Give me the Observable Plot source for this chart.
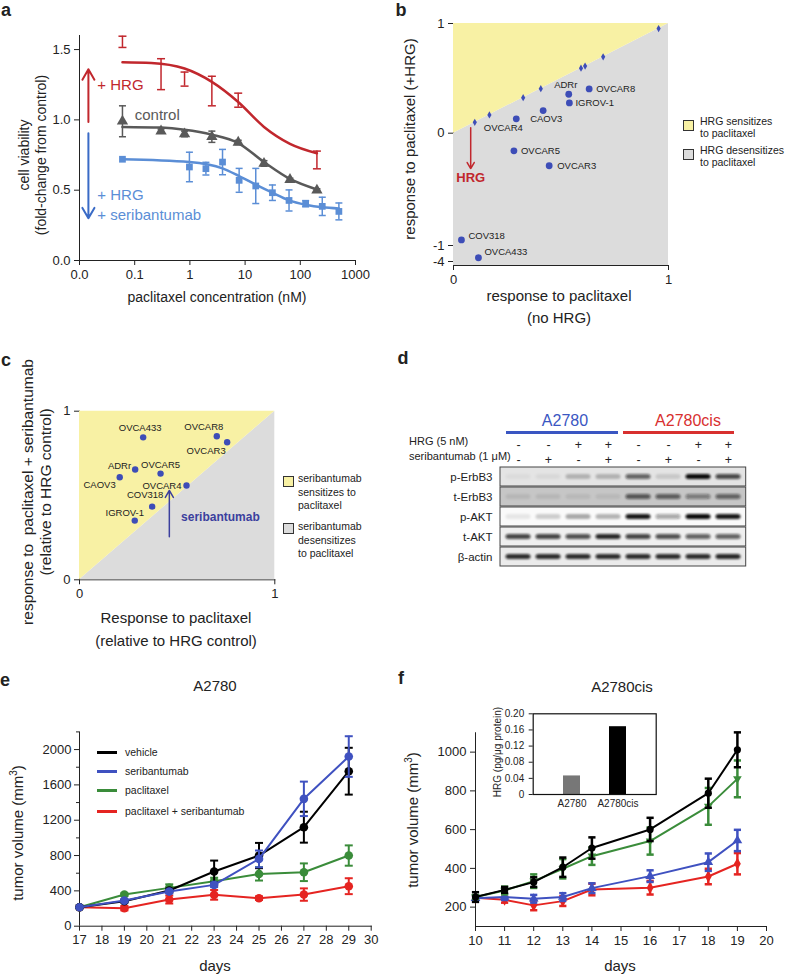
<!DOCTYPE html>
<html><head><meta charset="utf-8">
<script src="https://cdn.jsdelivr.net/npm/d3@7"></script>
<script src="https://cdn.jsdelivr.net/npm/@observablehq/plot@0.6"></script>
<style>
body{margin:0;background:#fff;}
#root{position:relative;width:787px;height:976px;overflow:hidden;font-family:"Liberation Sans",Arial,Helvetica,sans-serif;color:#222;background:#fff;}
.abs{position:absolute;white-space:nowrap;}
.sw{position:absolute;width:9px;height:9px;border:1.3px solid #333;}
.ln{position:absolute;}
</style></head><body><div id="root"></div>
<script>
// ---------------- DATA ----------------
// Panel a
const aXTicks = [0.01, 0.1, 1, 10, 100, 1000];
const aXTickLabels = ["0.0", "0.1", "1", "10", "100", "1000"];
const aYTicks = [0, 0.5, 1.0, 1.5];
const aHrgConc = [0.06, 0.3, 0.8, 2.5, 7.5, 200];
const aHrgY = [1.555, 1.325, 1.29, 1.205, 1.14, 0.715];
const aHrgErr = [0.04, 0.11, 0.05, 0.105, 0.05, 0.063];
const aCtrlConc = [0.06, 0.3, 0.8, 2.5, 7.5, 22, 65, 200];
const aCtrlY = [0.99, 0.92, 0.90, 0.88, 0.84, 0.69, 0.575, 0.50];
const aCtrlErr = [0.11, 0.015, 0.02, 0.04, 0.015, 0.02, 0.01, 0.01];
const aSeriConc = [0.06, 0.98, 1.95, 3.9, 7.8, 15.6, 31.25, 62.5, 125, 250, 500];
const aSeriY = [0.72, 0.665, 0.653, 0.70, 0.57, 0.53, 0.482, 0.427, 0.404, 0.385, 0.349];
const aSeriErr = [0, 0.105, 0.045, 0.09, 0.085, 0.125, 0.055, 0.075, 0.022, 0.065, 0.06];
const aFitHrgX = [0.06, 0.2, 0.8, 2.5, 7.5, 22, 65, 200];
const aFitHrgY = [1.41, 1.405, 1.365, 1.27, 1.127, 0.95, 0.83, 0.763];
const aFitCtrlX = [0.06, 0.3, 0.8, 2.5, 7.5, 22, 65, 200];
const aFitCtrlY = [0.95, 0.945, 0.93, 0.895, 0.835, 0.70, 0.58, 0.505];
const aFitSeriX = [0.06, 0.98, 3.9, 7.8, 15.6, 31.25, 62.5, 125, 250, 500];
const aFitSeriY = [0.72, 0.70, 0.655, 0.60, 0.54, 0.482, 0.428, 0.397, 0.378, 0.37];

// Panel b
const bLines = ["ADRr", "OVCAR8", "IGROV-1", "CAOV3", "OVCAR4", "OVCAR5", "OVCAR3", "COV318", "OVCA433"];
const bNoHrg = [0.536, 0.631, 0.539, 0.417, 0.292, 0.281, 0.445, 0.037, 0.116];
const bHrg = [0.355, 0.404, 0.276, 0.206, 0.131, -0.157, -0.29, -0.95, -3.3];
const bDiag = [0.099, 0.167, 0.324, 0.406, 0.593, 0.612, 0.696, 0.954];
const bYTicks = [1, 0, -1, -4];

// Panel c
const cLines = ["OVCA433", "OVCAR8", "OVCAR3", "ADRr", "OVCAR5", "CAOV3", "OVCAR4", "COV318", "IGROV-1"];
const cPacl = [0.326, 0.703, 0.756, 0.285, 0.415, 0.206, 0.548, 0.372, 0.283];
const cCombo = [0.845, 0.851, 0.816, 0.654, 0.63, 0.608, 0.559, 0.434, 0.351];

// Panel d (western blot band intensities, 0..1)
const dRows = ["p-ErbB3", "t-ErbB3", "p-AKT", "t-AKT", "β-actin"];
const dLanes = ["1", "2", "3", "4", "5", "6", "7", "8"];
const dHrgSign = ["-", "-", "+", "+", "-", "-", "+", "+"];
const dSeriSign = ["-", "+", "-", "+", "-", "+", "-", "+"];
const dPErbB3 = [0.04, 0.05, 0.22, 0.22, 0.6, 0.12, 1.0, 0.72];
const dTErbB3 = [0.08, 0.08, 0.07, 0.07, 0.62, 0.58, 0.42, 0.55];
const dPAKT = [0.08, 0.18, 0.32, 0.28, 0.95, 0.35, 1.0, 0.95];
const dTAKT = [0.75, 0.75, 0.7, 0.88, 0.75, 0.7, 0.62, 0.62];
const dActin = [0.85, 0.85, 0.85, 0.85, 0.85, 0.85, 0.85, 0.88];

// Panel e (A2780)
const eDays = [17, 19, 21, 23, 25, 27, 29];
const eVehicle = [215, 283, 404, 619, 800, 1121, 1755];
const eVehicleErr = [0, 15, 20, 124, 143, 175, 265];
const eSeri = [215, 290, 392, 468, 762, 1442, 1921];
const eSeriErr = [0, 15, 20, 25, 95, 195, 230];
const ePacl = [215, 358, 434, 509, 592, 611, 800];
const ePaclErr = [0, 15, 40, 40, 75, 100, 115];
const eCombo = [215, 204, 302, 355, 317, 358, 453];
const eComboErr = [0, 25, 45, 55, 20, 70, 90];
const eXTicks = [17, 18, 19, 20, 21, 22, 23, 24, 25, 26, 27, 28, 29, 30];
const eYTicks = [0, 400, 800, 1200, 1600, 2000];
const eYMinor = [200, 600, 1000, 1400, 1800, 2200];
const eLegend = ["vehicle", "seribantumab", "paclitaxel", "paclitaxel + seribantumab"];

// Panel f (A2780cis)
const fDays = [10, 11, 12, 13, 14, 16, 18, 19];
const fVehicle = [252, 289, 329, 406, 505, 601, 788, 1012];
const fVehicleErr = [25, 15, 25, 50, 55, 60, 75, 90];
const fSeri = [246, 252, 243, 252, 298, 360, 432, 544];
const fSeriErr = [15, 15, 20, 20, 25, 30, 45, 55];
const fPacl = [252, 286, 334, 398, 463, 541, 720, 862];
const fPaclErr = [10, 20, 35, 50, 45, 70, 95, 95];
const fCombo = [248, 238, 209, 231, 291, 300, 358, 424];
const fComboErr = [10, 15, 25, 25, 30, 35, 40, 55];
const fXTicks = [10, 11, 12, 13, 14, 15, 16, 17, 18, 19, 20];
const fYTicks = [200, 400, 600, 800, 1000];
const fInsetCat = ["A2780", "A2780cis"];
const fInsetHRG = [0.046, 0.168];
const fInsetTicks = [0, 0.04, 0.08, 0.12, 0.16, 0.20];

// ---------------- STYLES ----------------
const FONT = '"Liberation Sans", Arial, Helvetica, sans-serif';
const RED_A = "#c1272d", GRAY_A = "#595959", BLUE_A = "#5b8ed6", BLUE_ARROW = "#3a6bc6";
const DOT_BLUE = "#3d4db7", YELLOW = "#f8f1a4", GRAYBG = "#dcdcdc", NAVY = "#3b3f9e";
const E_BLACK = "#000", E_BLUE = "#3f51c0", E_GREEN = "#3a8c3a", E_RED = "#e52421";
const fInsetColors = ["#777777", "#000000"];
const dRowBg = ["#e4e4e4", "#c6c6c6", "#fafafa", "#efefef", "#ebebeb"];

const root = document.getElementById("root");
const st = fs => ({fontFamily: FONT, fontSize: fs + "px", color: "#222", background: "transparent", overflow: "visible"});
function put(svg, left, top) {
  svg.style.position = "absolute"; svg.style.left = left + "px"; svg.style.top = top + "px";
  root.appendChild(svg); return svg;
}
function label(html, x, y, o = {}) {
  const d = document.createElement("div");
  d.className = "abs"; d.innerHTML = html;
  Object.assign(d.style, {left: x + "px", top: y + "px", fontSize: (o.size || 14) + "px", color: o.color || "#222",
    fontWeight: o.bold ? "bold" : "normal", lineHeight: o.lh ? o.lh + "px" : "normal", textAlign: o.align || "center"});
  const ax = o.anchor === "start" ? "0" : o.anchor === "end" ? "-100%" : "-50%";
  d.style.transform = `translate(${ax},-50%)` + (o.rotate ? " rotate(-90deg)" : "");
  root.appendChild(d); return d;
}
const capSym = {draw(ctx, size) { const w = Math.sqrt(size / Math.PI); ctx.moveTo(-w, 0); ctx.lineTo(w, 0); }};
const triDown = {draw(ctx, size) { const r = Math.sqrt(size / Math.PI) * 1.2; ctx.moveTo(-r, -r * 0.6); ctx.lineTo(r, -r * 0.6); ctx.lineTo(0, r * 1.1); ctx.closePath(); }};
function errBars(data, stroke, w, capR) {
  const d = data.filter(p => p.e > 0);
  return [
    Plot.ruleX(d, {x: "x", y1: p => p.y - p.e, y2: p => p.y + p.e, stroke, strokeWidth: w}),
    Plot.dot(d, {x: "x", y: p => p.y + p.e, symbol: capSym, r: capR, stroke, strokeWidth: w, fill: "none"}),
    Plot.dot(d, {x: "x", y: p => p.y - p.e, symbol: capSym, r: capR, stroke, strokeWidth: w, fill: "none"})
  ];
}
const zip3 = (xs, ys, es) => xs.map((x, i) => ({x, y: ys[i], e: es ? es[i] : 0}));
const intFmt = d => String(d);

// ---------------- PANEL A ----------------
{
  const hrg = zip3(aHrgConc, aHrgY, aHrgErr), ctrl = zip3(aCtrlConc, aCtrlY, aCtrlErr), seri = zip3(aSeriConc, aSeriY, aSeriErr);
  const fitH = zip3(aFitHrgX, aFitHrgY), fitC = zip3(aFitCtrlX, aFitCtrlY), fitS = zip3(aFitSeriX, aFitSeriY);
  const arrows = [{x1: 0.0145, y1: 0.985, x2: 0.0145, y2: 1.36, c: RED_A}, {x1: 0.0145, y1: 0.905, x2: 0.0145, y2: 0.30, c: BLUE_ARROW}];
  const notes = [
    {x: 0.021, y: 1.246, t: "+ HRG", c: RED_A},
    {x: 0.1, y: 1.03, t: "control", c: GRAY_A},
    {x: 0.021, y: 0.463, t: "+ HRG", c: BLUE_A},
    {x: 0.021, y: 0.32, t: "+ seribantumab", c: BLUE_A}
  ];
  const svg = Plot.plot({
    width: 390, height: 300, marginLeft: 79, marginRight: 35, marginTop: 35, marginBottom: 40,
    style: st(13),
    x: {type: "log", domain: [0.01, 1000], ticks: aXTicks, tickFormat: d => aXTickLabels[aXTicks.indexOf(d)], line: true, tickSize: 5, label: null},
    y: {domain: [0, 1.6], ticks: aYTicks, tickFormat: ".1f", line: true, tickSize: 5, label: null},
    marks: [
      Plot.line(fitH, {x: "x", y: "y", stroke: RED_A, strokeWidth: 2.5, curve: "monotone-x"}),
      ...errBars(hrg, RED_A, 1.5, 4),
      Plot.line(fitC, {x: "x", y: "y", stroke: GRAY_A, strokeWidth: 2.5, curve: "monotone-x"}),
      ...errBars(ctrl, GRAY_A, 1.5, 3.5),
      Plot.dot(ctrl, {x: "x", y: "y", symbol: "triangle", r: 4.2, fill: GRAY_A}),
      Plot.line(fitS, {x: "x", y: "y", stroke: BLUE_A, strokeWidth: 2.5, curve: "monotone-x"}),
      ...errBars(seri, BLUE_A, 1.5, 3.5),
      Plot.dot(seri, {x: "x", y: "y", symbol: "square", r: 3.8, fill: BLUE_A}),
      Plot.arrow(arrows, {x1: "x1", y1: "y1", x2: "x2", y2: "y2", stroke: "c", strokeWidth: 2, headLength: 9}),
      Plot.text(notes, {x: "x", y: "y", text: "t", fill: "c", fontSize: 15, textAnchor: "start"})
    ]
  });
  put(svg, 0, 0);
  label("a", 6, 10, {size: 18, bold: true});
  label("cell viability<br>(fold-change from control)", 33, 155, {size: 14, rotate: true, lh: 17});
  label("paclitaxel concentration (nM)", 217, 297, {size: 14});
}

// ---------------- PANEL B ----------------
{
  const pts = bLines.map((n, i) => ({n, x: bNoHrg[i], y: bHrg[i]}));
  const place = {ADRr: [-3, -9, "middle"], OVCAR8: [7, 0, "start"], "IGROV-1": [6, 0, "start"], CAOV3: [-13, 8.5, "start"],
    OVCAR4: [-13, 9, "middle"], OVCAR5: [7, 0, "start"], OVCAR3: [8, 0, "start"], COV318: [7, -4, "start"], OVCA433: [6, -6, "start"]};
  const H = 300, top = 23, bottom = 265;
  const svg = Plot.plot({
    width: 397, height: H, marginLeft: 63, marginRight: 119, marginTop: top, marginBottom: H - bottom,
    style: st(13),
    x: {domain: [0, 1], ticks: [0, 1], tickFormat: intFmt, line: true, tickSize: 5, label: null},
    y: {type: "linear", domain: [-4.25, -4, -1, 0, 1], range: [bottom, bottom - 4, bottom - 20, 132.7, top], ticks: bYTicks, tickFormat: intFmt, line: true, tickSize: 5, label: null},
    marks: [
      Plot.areaY([0, 1], {x: d => d, y1: -4.25, y2: d => d, fill: GRAYBG}),
      Plot.areaY([0, 1], {x: d => d, y1: d => d, y2: 1, fill: YELLOW}),
      Plot.dot(bDiag, {x: d => d, y: d => d, symbol: "diamond", r: 2.2, fill: DOT_BLUE}),
      Plot.dot(pts, {x: "x", y: "y", r: 3.4, fill: DOT_BLUE}),
      ...pts.map(p => Plot.text([p], {x: "x", y: "y", text: "n", dx: place[p.n][0], dy: place[p.n][1], textAnchor: place[p.n][2], fontSize: 9.5, fill: "#222"})),
      Plot.arrow([{x: 0.08, y1: 0.05, y2: -0.315}], {x1: "x", x2: "x", y1: "y1", y2: "y2", stroke: RED_A, strokeWidth: 1.5, headLength: 7}),
      Plot.text([{x: 0.08, y: -0.40, t: "HRG"}], {x: "x", y: "y", text: "t", fill: RED_A, fontWeight: "bold", fontSize: 13})
    ]
  });
  put(svg, 390, 0);
  label("b", 401, 10, {size: 18, bold: true});
  label("response to paclitaxel (+HRG)", 409, 139, {size: 15, rotate: true});
  label("response to paclitaxel<br>(no HRG)", 559, 307, {size: 15, lh: 22});
  const s1 = document.createElement("div"); s1.className = "sw"; Object.assign(s1.style, {left: "683px", top: "120px", background: YELLOW}); root.appendChild(s1);
  const s2 = document.createElement("div"); s2.className = "sw"; Object.assign(s2.style, {left: "683px", top: "149px", background: GRAYBG}); root.appendChild(s2);
  label("HRG sensitizes<br>to paclitaxel", 700, 127, {size: 10.5, anchor: "start", align: "left", lh: 12});
  label("HRG desensitizes<br>to paclitaxel", 700, 156, {size: 10.5, anchor: "start", align: "left", lh: 12});
}

// ---------------- PANEL C ----------------
{
  const pts = cLines.map((n, i) => ({n, x: cPacl[i], y: cCombo[i]}));
  const place = {OVCA433: [-3, -9, "middle"], OVCAR8: [-13, -9, "middle"], OVCAR3: [-21, 9, "middle"], ADRr: [-4, -4, "end"],
    OVCAR5: [0, -9, "middle"], CAOV3: [-4, 8, "end"], OVCAR4: [-5, 0, "end"], COV318: [-7, -12, "middle"], "IGROV-1": [-10, -8, "middle"]};
  const svg = Plot.plot({
    width: 390, height: 280, marginLeft: 79, marginRight: 115.7, marginTop: 80.7, marginBottom: 30.7,
    style: st(13),
    x: {domain: [0, 1], ticks: [0, 1], tickFormat: intFmt, line: true, tickSize: 5, label: null},
    y: {domain: [0, 1], ticks: [0, 1], tickFormat: intFmt, line: true, tickSize: 5, label: null},
    marks: [
      Plot.areaY([0, 1], {x: d => d, y1: 0, y2: d => d, fill: GRAYBG}),
      Plot.areaY([0, 1], {x: d => d, y1: d => d, y2: 1, fill: YELLOW}),
      Plot.dot(pts, {x: "x", y: "y", r: 3.2, fill: DOT_BLUE}),
      ...pts.map(p => Plot.text([p], {x: "x", y: "y", text: "n", dx: place[p.n][0], dy: place[p.n][1], textAnchor: place[p.n][2], fontSize: 9.5, fill: "#222"})),
      Plot.arrow([{x: 0.46, y1: 0.255, y2: 0.53}], {x1: "x", x2: "x", y1: "y1", y2: "y2", stroke: NAVY, strokeWidth: 1.5, headLength: 8}),
      Plot.text([{x: 0.52, y: 0.37, t: "seribantumab"}], {x: "x", y: "y", text: "t", fill: NAVY, fontWeight: "bold", fontSize: 12, textAnchor: "start"})
    ]
  });
  put(svg, 0, 330);
  label("c", 6, 360, {size: 18, bold: true});
  label("response to&nbsp; paclitaxel + seribantumab<br>(relative to HRG control)", 37, 492, {size: 15.5, rotate: true, lh: 18});
  label("Response to paclitaxel<br>(relative to HRG control)", 176, 629, {size: 15, lh: 23});
  const s1 = document.createElement("div"); s1.className = "sw"; Object.assign(s1.style, {left: "283px", top: "476px", background: YELLOW}); root.appendChild(s1);
  const s2 = document.createElement("div"); s2.className = "sw"; Object.assign(s2.style, {left: "283px", top: "523px", background: GRAYBG}); root.appendChild(s2);
  label("seribantumab<br>sensitizes to<br>paclitaxel", 298, 492, {size: 10.5, anchor: "start", align: "left", lh: 13.5});
  label("seribantumab<br>desensitizes<br>to paclitaxel", 298, 540, {size: 10.5, anchor: "start", align: "left", lh: 13.5});
}

// ---------------- PANEL D ----------------
{
  const rowsData = dRows.map((r, i) => ({row: r, bg: dRowBg[i]}));
  const intens = [dPErbB3, dTErbB3, dPAKT, dTAKT, dActin];
  const bands = [];
  dRows.forEach((r, i) => dLanes.forEach((l, j) => bands.push({row: r, lane: l, v: intens[i][j]})));
  const lanes = dLanes.map((l, j) => ({lane: l, h: dHrgSign[j], s: dSeriSign[j]}));
  const svg = Plot.plot({
    width: 397, height: 250, marginLeft: 110, marginRight: 41.3, marginTop: 135, marginBottom: 11.7,
    style: st(11.5),
    x: {type: "band", domain: dLanes, padding: 0, axis: null},
    y: {type: "band", domain: dRows, paddingInner: 0.07, paddingOuter: 0, tickSize: 0, tickPadding: 8, label: null},
    opacity: {domain: [0, 1], range: [0, 1]},
    marks: [
      Plot.cell(rowsData, {y: "row", fill: "bg", stroke: "#444", strokeWidth: 1}),
      Plot.cell(bands, {x: "lane", y: "row", fill: "#111", fillOpacity: "v", insetLeft: 2.5, insetRight: 2.5, insetTop: 7, insetBottom: 7, rx: 3}),
      Plot.text(lanes, {x: "lane", text: "h", frameAnchor: "top", dy: -25, fontSize: 12.5}),
      Plot.text(lanes, {x: "lane", text: "s", frameAnchor: "top", dy: -10, fontSize: 12.5})
    ]
  });
  const ns = "http://www.w3.org/2000/svg";
  const defs = document.createElementNS(ns, "defs");
  defs.innerHTML = '<filter id="blotblur" x="-20%" y="-60%" width="140%" height="220%"><feGaussianBlur stdDeviation="0.9"/></filter>';
  svg.prepend(defs);
  const cells = svg.querySelectorAll('g[aria-label="cell"]');
  if (cells.length) cells[cells.length - 1].setAttribute("filter", "url(#blotblur)");
  put(svg, 390, 330);
  label("d", 403, 358, {size: 18, bold: true});
  label("A2780", 565, 421, {size: 16, color: "#3a56c2"});
  label("A2780cis", 688, 421, {size: 16, color: "#d8302f"});
  const l1 = document.createElement("div"); l1.className = "ln"; Object.assign(l1.style, {left: "506px", top: "431px", width: "112px", height: "3px", background: "#3a56c2"}); root.appendChild(l1);
  const l2 = document.createElement("div"); l2.className = "ln"; Object.assign(l2.style, {left: "623px", top: "431px", width: "111px", height: "3px", background: "#d8302f"}); root.appendChild(l2);
  label("HRG (5 nM)", 409, 441, {size: 11, anchor: "start"});
  label("seribantumab (1 μM)", 409, 456, {size: 11, anchor: "start"});
}

// ---------------- PANEL E ----------------
{
  const mk = (ys, es) => eDays.map((x, i) => ({x, y: ys[i], e: es[i]}));
  const series = [
    {d: mk(eCombo, eComboErr), c: E_RED},
    {d: mk(ePacl, ePaclErr), c: E_GREEN},
    {d: mk(eVehicle, eVehicleErr), c: E_BLACK},
    {d: mk(eSeri, eSeriErr), c: E_BLUE}
  ];
  const marks = [];
  for (const s of series) {
    marks.push(Plot.line(s.d, {x: "x", y: "y", stroke: s.c, strokeWidth: 2}));
    marks.push(...errBars(s.d, s.c, 2, 4));
    marks.push(Plot.dot(s.d, {x: "x", y: "y", r: 4.3, fill: s.c}));
  }
  const svg = Plot.plot({
    width: 390, height: 276, marginLeft: 79, marginRight: 19.3, marginTop: 31.4, marginBottom: 50.3,
    style: st(13),
    x: {domain: [17, 30], ticks: eXTicks, tickFormat: intFmt, line: true, tickSize: 5, label: null},
    y: {domain: [0, 2200], label: null},
    marks: [
      Plot.axisY({ticks: eYTicks, tickFormat: intFmt, tickSize: 5, tickPadding: 3, label: null}),
      Plot.axisY({ticks: eYMinor, tickSize: 3, tickFormat: () => "", label: null}),
      Plot.ruleX([17], {y1: 0, y2: 2200, stroke: "#222"}),
      ...marks
    ]
  });
  put(svg, 0, 700);
  label("e", 5, 680, {size: 18, bold: true});
  label("A2780", 215, 685, {size: 15});
  label("tumor volume (mm<sup style='font-size:10px'>3</sup>)", 17, 833, {size: 15, rotate: true});
  label("days", 215, 965, {size: 15});
  const lc = [E_BLACK, E_BLUE, E_GREEN, E_RED], ly = [752, 771, 790, 811];
  eLegend.forEach((t, i) => {
    const l = document.createElement("div"); l.className = "ln";
    Object.assign(l.style, {left: "97px", top: (ly[i] - 1) + "px", width: "20px", height: "2.5px", background: lc[i]}); root.appendChild(l);
    label(t, 125, ly[i], {size: 10.5, anchor: "start"});
  });
}

// ---------------- PANEL F ----------------
{
  const mk = (ys, es) => fDays.map((x, i) => ({x, y: ys[i], e: es[i]}));
  const series = [
    {d: mk(fCombo, fComboErr), c: E_RED, sym: "diamond"},
    {d: mk(fSeri, fSeriErr), c: E_BLUE, sym: "triangle"},
    {d: mk(fPacl, fPaclErr), c: E_GREEN, sym: triDown},
    {d: mk(fVehicle, fVehicleErr), c: E_BLACK, sym: "circle"}
  ];
  const marks = [];
  for (const s of series) {
    marks.push(Plot.line(s.d, {x: "x", y: "y", stroke: s.c, strokeWidth: 2}));
    marks.push(...errBars(s.d, s.c, 2.5, 3.6));
    marks.push(Plot.dot(s.d, {x: "x", y: "y", r: 3.6, fill: s.c, symbol: s.sym}));
  }
  const svg = Plot.plot({
    width: 397, height: 276, marginLeft: 85, marginRight: 21, marginTop: 32.25, marginBottom: 50,
    style: st(13),
    x: {domain: [10, 20], ticks: fXTicks, tickFormat: intFmt, line: true, tickSize: 5, label: null},
    y: {domain: [100, 1100], ticks: fYTicks, tickFormat: intFmt, line: true, tickSize: 5, label: null},
    marks
  });
  put(svg, 390, 700);
  label("f", 401, 678, {size: 18, bold: true});
  label("A2780cis", 622, 686, {size: 15});
  label("tumor volume (mm<sup style='font-size:10px'>3</sup>)", 412, 820, {size: 15, rotate: true});
  label("days", 620, 965, {size: 15});

  const ins = fInsetCat.map((c, i) => ({c, v: fInsetHRG[i], col: fInsetColors[i]}));
  const svgI = Plot.plot({
    width: 185, height: 110, marginLeft: 52.7, marginRight: 9.3, marginTop: 8.3, marginBottom: 21,
    style: {...st(10), background: "#fff"},
    x: {type: "band", domain: fInsetCat, padding: 0.63, tickSize: 0, tickPadding: 5, label: null},
    y: {domain: [0, 0.2], ticks: fInsetTicks, tickFormat: d => d === 0 ? "0" : d.toFixed(2), tickSize: 4, label: null},
    marks: [
      Plot.barY(ins, {x: "c", y: "v", fill: "col"}),
      Plot.frame({stroke: "#111", strokeWidth: 1.2})
    ]
  });
  put(svgI, 480, 705);
  label("HRG (pg/μg protein)", 497, 752, {size: 10, rotate: true});
}
</script></body></html>
